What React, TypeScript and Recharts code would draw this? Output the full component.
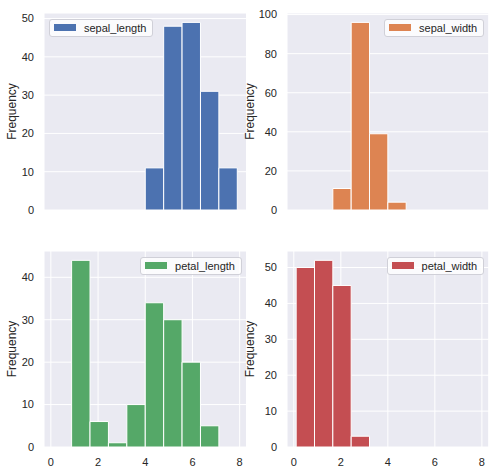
import { ComposedChart, XAxis, YAxis, CartesianGrid, ReferenceArea, Line } from 'recharts';

const binEdges = [0.1, 0.88, 1.66, 2.44, 3.22, 4.0, 4.78, 5.56, 6.34, 7.12, 7.9];
const sepalLength = [0, 0, 0, 0, 0, 11, 48, 49, 31, 11];
const sepalWidth = [0, 0, 11, 96, 39, 4, 0, 0, 0, 0];
const petalLength = [0, 44, 6, 1, 10, 34, 30, 20, 5, 0];
const petalWidth = [50, 52, 45, 3, 0, 0, 0, 0, 0, 0];

const xTicks = [0, 2, 4, 6, 8];
const ticksSepalLength = [0, 10, 20, 30, 40, 50];
const ticksSepalWidth = [0, 20, 40, 60, 80, 100];
const ticksPetalLength = [0, 10, 20, 30, 40];
const ticksPetalWidth = [0, 10, 20, 30, 40, 50];

const FONT = '"Liberation Sans", Arial, sans-serif';
const TEXT = '#262626';

interface PanelProps {
  name: string;
  counts: number[];
  color: string;
  yTicks: number[];
  left: number;
  top: number;
  width: number;
  height: number;
  axisWidth: number;
  marginRight: number;
  marginTop: number;
  showX: boolean;
  legendSide: 'left' | 'right';
  labelOffset: number;
}

function Panel(p: PanelProps) {
  const bins = p.counts.map((count, i) => ({
    lo: binEdges[i],
    hi: binEdges[i + 1],
    mid: (binEdges[i] + binEdges[i + 1]) / 2,
    count,
  }));
  const yMax = Math.max(...p.counts) * 1.05;
  const plotLeft = p.axisWidth;
  const plotRight = p.width - p.marginRight;

  const legendStyle: React.CSSProperties = {
    position: 'absolute',
    top: p.marginTop + 5.5,
    height: 18,
    boxSizing: 'border-box',
    display: 'flex',
    alignItems: 'center',
    padding: '0 6px 0 4px',
    border: '1px solid #d0d0d8',
    borderRadius: 3,
    background: 'rgba(255,255,255,0.8)',
    fontFamily: FONT,
    fontSize: 11,
    color: TEXT,
    whiteSpace: 'nowrap',
  };
  if (p.legendSide === 'left') legendStyle.left = plotLeft + 5;
  else legendStyle.right = p.width - plotRight + 4.5;

  return (
    <div style={{ position: 'absolute', left: p.left, top: p.top, width: p.width, height: p.height }}>
      <ComposedChart
        width={p.width}
        height={p.height}
        data={bins}
        margin={{ top: p.marginTop, right: p.marginRight, bottom: p.showX ? 0 : 27, left: 0 }}
      >
        <CartesianGrid stroke="#ffffff" strokeWidth={1} fill="#EAEAF2" fillOpacity={1} />
        <XAxis
          dataKey="mid"
          type="number"
          domain={[-0.29, 8.29]}
          ticks={xTicks}
          height={p.showX ? 27 : 0}
          tick={p.showX ? { fill: TEXT, fontSize: 11, fontFamily: FONT } : false}
          tickLine={false}
          axisLine={false}
          tickSize={0}
          tickMargin={11}
          allowDataOverflow
        />
        <YAxis
          type="number"
          domain={[0, yMax]}
          ticks={p.yTicks}
          width={p.axisWidth}
          tick={{ fill: TEXT, fontSize: 11, fontFamily: FONT }}
          tickLine={false}
          axisLine={false}
          tickSize={0}
          tickMargin={10}
          allowDataOverflow
          label={{
            value: 'Frequency',
            angle: -90,
            position: 'insideLeft',
            offset: p.labelOffset,
            style: { textAnchor: 'middle', fill: TEXT, fontSize: 12, fontFamily: FONT },
          }}
        />
        {bins
          .filter((b) => b.count > 0)
          .map((b) => (
            <ReferenceArea
              key={b.lo}
              x1={b.lo}
              x2={b.hi}
              y1={0}
              y2={b.count}
              fill={p.color}
              fillOpacity={1}
              stroke="#ffffff"
              strokeWidth={1}
              strokeOpacity={1}
              ifOverflow="visible"
            />
          ))}
        <Line dataKey="count" stroke="none" dot={false} activeDot={false} isAnimationActive={false} />
      </ComposedChart>
      <div style={legendStyle}>
        <span style={{ display: 'inline-block', width: 22, height: 7, background: p.color, marginRight: 8 }} />
        <span>{p.name}</span>
      </div>
    </div>
  );
}

export default function App() {
  return (
    <div style={{ position: 'absolute', left: 0, top: 0, width: 502, height: 474, background: '#ffffff' }}>
      <Panel
        name="sepal_length"
        counts={sepalLength}
        color="#4C72B0"
        yTicks={ticksSepalLength}
        left={0}
        top={0}
        width={251}
        height={237}
        axisWidth={44}
        marginRight={4.5}
        marginTop={13}
        showX={false}
        legendSide="left"
        labelOffset={11.5}
      />
      <Panel
        name="sepal_width"
        counts={sepalWidth}
        color="#DD8452"
        yTicks={ticksSepalWidth}
        left={240}
        top={0}
        width={262}
        height={237}
        axisWidth={47}
        marginRight={13.3}
        marginTop={13}
        showX={false}
        legendSide="right"
        labelOffset={9.5}
      />
      <Panel
        name="petal_length"
        counts={petalLength}
        color="#55A868"
        yTicks={ticksPetalLength}
        left={0}
        top={237}
        width={251}
        height={237}
        axisWidth={44}
        marginRight={4.5}
        marginTop={14}
        showX={true}
        legendSide="right"
        labelOffset={11.5}
      />
      <Panel
        name="petal_width"
        counts={petalWidth}
        color="#C44E52"
        yTicks={ticksPetalWidth}
        left={240}
        top={237}
        width={262}
        height={237}
        axisWidth={47}
        marginRight={13.3}
        marginTop={14}
        showX={true}
        legendSide="right"
        labelOffset={9.5}
      />
    </div>
  );
}
